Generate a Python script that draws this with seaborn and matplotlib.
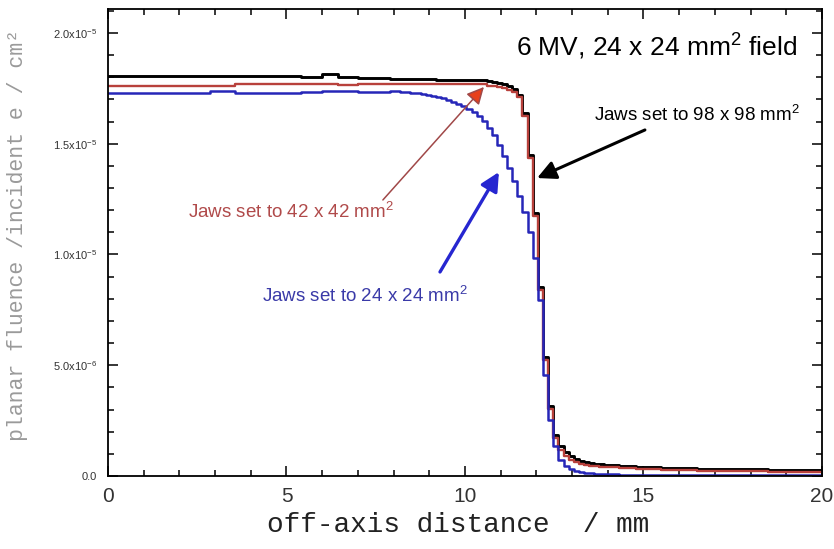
import matplotlib
matplotlib.use("Agg")
import matplotlib.pyplot as plt
import numpy as np
import pandas as pd
import seaborn as sns
from matplotlib.ticker import FixedLocator, MultipleLocator

# ---------------- data (fluence in units of 1e-6 e^-1 cm^-2) ----------------
x_edges_mm = [0.0, 1.0, 2.0, 2.86, 3.56, 4.5, 5.4, 6.0, 6.45, 7.0, 7.5,
              7.90, 8.04, 8.19, 8.33, 8.47, 8.61, 8.76, 8.90, 9.04, 9.19,
              9.33, 9.47, 9.61, 9.76, 9.90, 10.04, 10.19, 10.33, 10.47, 10.61,
              10.76, 10.90, 11.04, 11.19, 11.33, 11.47, 11.61, 11.76, 11.90, 12.04,
              12.19, 12.33, 12.47, 12.61, 12.76, 12.90, 13.04, 13.19, 13.33, 13.47,
              13.61, 13.76,
              13.90, 14.3, 14.8, 15.5, 16.5, 17.5, 18.5, 19.5, 20.0]

jaws98 = [18.06, 18.06, 18.06, 18.06, 18.06, 18.06, 18.01, 18.15, 18.01, 17.97, 17.97,
          17.92, 17.92, 17.92, 17.92, 17.92, 17.92, 17.92, 17.92, 17.92,
          17.88, 17.88, 17.88, 17.88, 17.88, 17.88, 17.88, 17.88, 17.88, 17.88,
          17.83, 17.79, 17.74, 17.70, 17.61, 17.47, 17.20, 16.39, 14.49, 11.87,
          8.53, 5.37, 3.16, 1.85, 1.35, 1.08, 0.90, 0.77, 0.68, 0.63,
          0.59, 0.54, 0.54,
          0.50, 0.45, 0.41, 0.36, 0.32, 0.32, 0.27, 0.27]

jaws42 = [17.61, 17.61, 17.61, 17.61, 17.70, 17.70, 17.70, 17.70, 17.65, 17.70, 17.70,
          17.70, 17.70, 17.70, 17.70, 17.70, 17.70, 17.70, 17.70, 17.70, 17.70,
          17.70, 17.70, 17.70, 17.70, 17.70, 17.70, 17.70, 17.70, 17.70,
          17.61, 17.61, 17.56, 17.52, 17.43, 17.34, 17.11, 16.25, 14.36, 11.74,
          8.40, 5.24, 3.02, 1.72, 1.17, 0.90, 0.72, 0.63, 0.54, 0.50,
          0.45, 0.45, 0.41,
          0.41, 0.36, 0.32, 0.27, 0.23, 0.23, 0.18, 0.18]

jaws24 = [17.29, 17.29, 17.29, 17.38, 17.29, 17.29, 17.34, 17.38, 17.38, 17.34, 17.34,
          17.38, 17.38, 17.34, 17.34, 17.29, 17.29, 17.25, 17.20, 17.16, 17.11,
          17.07, 16.98, 16.88, 16.79, 16.70, 16.57, 16.43, 16.25, 16.03, 15.71,
          15.40, 14.94, 14.45, 13.91, 13.32, 12.64, 11.92, 11.02, 9.84, 7.95,
          4.56, 2.53, 1.35, 0.72, 0.45, 0.32, 0.23, 0.18, 0.14, 0.14,
          0.09, 0.09,
          0.07, 0.05, 0.05, 0.05, 0.05, 0.05, 0.05, 0.05]

x_ticks = [0, 5, 10, 15, 20]
x_tick_labels = ["0", "5", "10", "15", "20"]
y_ticks = [0, 5, 10, 15, 20]
y_tick_labels = ["0.0", "5.0x10$^{-6}$", "1.0x10$^{-5}$", "1.5x10$^{-5}$", "2.0x10$^{-5}$"]

title_text = "6 MV, 24 x 24 mm$^2$ field"
label98 = "Jaws set to 98 x 98 mm$^2$"
label42 = "Jaws set to 42 x 42 mm$^2$"
label24 = "Jaws set to 24 x 24 mm$^2$"
x_label = "off-axis distance  / mm"
y_label = "planar fluence /incident e / cm²"

# ---------------- style ----------------
sns.set_style("ticks")
plt.rcParams["font.family"] = ["Liberation Sans", "DejaVu Sans"]
plt.rcParams["mathtext.fontset"] = "custom"
plt.rcParams["mathtext.rm"] = "Liberation Sans"
plt.rcParams["mathtext.default"] = "regular"

fig = plt.figure(figsize=(8.34, 5.49), dpi=100, facecolor="white")
ax = fig.add_axes([0.1295, 0.1330, 0.8561, 0.8506])
ax.set_facecolor("white")

def step_frame(vals):
    return pd.DataFrame({"x": x_edges_mm, "y": list(vals) + [vals[-1]]})

series = [(jaws98, "#000000", 2.1), (jaws42, "#b8413c", 1.7), (jaws24, "#2626b8", 1.8)]
for vals, col, lw in series:
    sns.lineplot(data=step_frame(vals), x="x", y="y", ax=ax, color=col, lw=lw,
                 drawstyle="steps-post", estimator=None, sort=False)

ax.set_xlim(0, 20)
ax.set_ylim(0, 21.08)

ax.xaxis.set_major_locator(FixedLocator(x_ticks))
ax.xaxis.set_minor_locator(MultipleLocator(1))
ax.yaxis.set_major_locator(FixedLocator(y_ticks))
ax.yaxis.set_minor_locator(MultipleLocator(1))
ax.set_xticklabels(x_tick_labels, fontsize=15, color="#333333",
                   family=["Liberation Sans Narrow", "Liberation Sans"])
ax.set_yticklabels(y_tick_labels, fontsize=8, color="#333333")
ax.tick_params(which="both", direction="in", top=True, right=True, width=1.1, color="black")
ax.tick_params(which="major", length=7)
ax.tick_params(which="minor", length=4)
ax.tick_params(axis="x", which="major", pad=8)
ax.tick_params(axis="y", which="major", pad=8)
for sp in ax.spines.values():
    sp.set_linewidth(1.3)
    sp.set_color("black")
    sp.set_visible(True)

ax.set_xlabel(x_label, fontsize=20, family=["Liberation Mono", "DejaVu Sans Mono"],
              color="#222222", va="center")
ax.xaxis.set_label_coords(0.49, -0.105)
ax.set_ylabel(y_label, fontsize=15.5, family=["Liberation Mono", "DejaVu Sans Mono"],
              color="#9a9a9a", va="center")
ax.yaxis.set_label_coords(-0.127, 0.515)

# ---------------- annotations ----------------
ax.text(19.30, 19.37, title_text, fontsize=19, ha="right", va="center", color="black")
ax.text(19.38, 16.30, label98, fontsize=13.5, ha="right", va="center", color="black")
ax.text(2.24, 11.92, label42, fontsize=13.5, ha="left", va="center", color="#b04a4a")
ax.text(4.31, 8.13, label24, fontsize=13.5, ha="left", va="center", color="#3a3aa8")

ax.annotate("", xy=(12.02, 13.45), xytext=(15.04, 15.62),
            arrowprops=dict(arrowstyle="-|>", color="black", lw=2.2, mutation_scale=28,
                            shrinkA=0, shrinkB=0))
ax.annotate("", xy=(10.53, 17.56), xytext=(7.70, 12.46),
            arrowprops=dict(arrowstyle="-|>", ec="#a04848", fc="#e8401c", lw=1.1,
                            mutation_scale=26, shrinkA=0, shrinkB=0))
ax.annotate("", xy=(10.95, 13.72), xytext=(9.30, 9.21),
            arrowprops=dict(arrowstyle="-|>", color="#2626d0", lw=2.4, mutation_scale=28,
                            shrinkA=0, shrinkB=0))

fig.savefig("out.png", dpi=100, facecolor="white")
